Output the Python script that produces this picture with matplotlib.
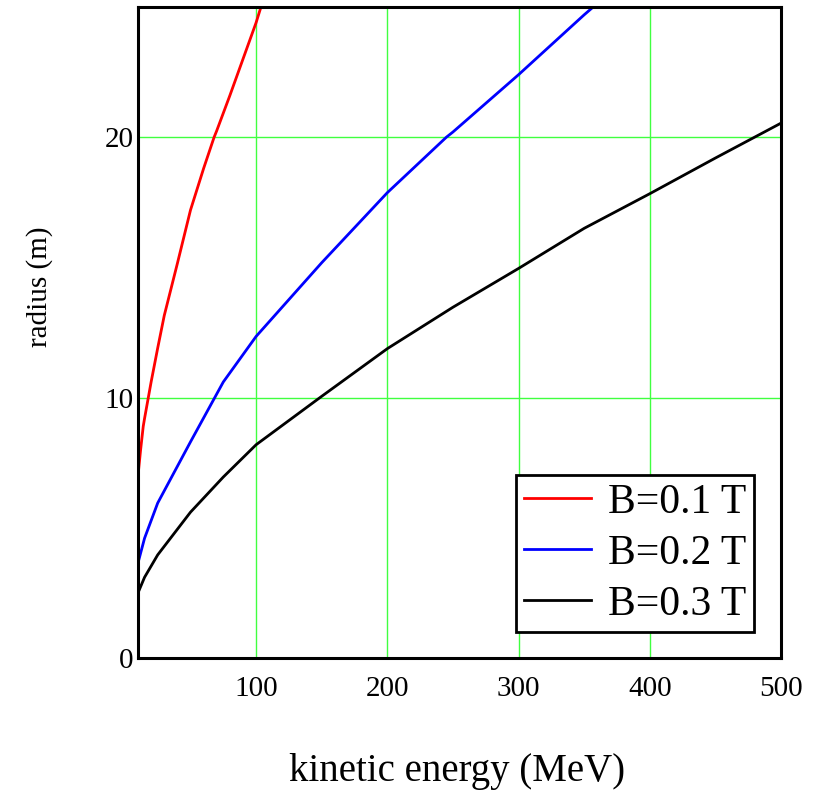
import matplotlib
matplotlib.use('Agg')
import matplotlib.pyplot as plt

plt.rcParams['font.family'] = ['Liberation Serif', 'DejaVu Serif']

# values (kinetic energy in MeV, radius in m)
ke_01 = [10, 12, 14, 15, 20, 25, 30, 40, 50, 60, 68, 70, 80, 90, 100, 104]
r_01 = [7.0, 8.0, 8.9, 9.2, 10.6, 11.9, 13.15, 15.15, 17.2, 18.8, 20.0, 20.25, 21.6, 23.0, 24.4, 25.05]

ke_02 = [10, 15, 25, 50, 75, 100, 150, 200, 245, 250, 300, 350, 358]
r_02 = [3.65, 4.6, 5.95, 8.3, 10.6, 12.35, 15.18, 17.87, 20.0, 20.2, 22.4, 24.7, 25.05]

ke_03 = [10, 15, 25, 50, 75, 100, 150, 200, 250, 300, 350, 400, 450, 500]
r_03 = [2.5, 3.1, 3.96, 5.6, 6.95, 8.19, 10.05, 11.88, 13.47, 14.96, 16.5, 17.83, 19.2, 20.54]

labels = ['B=0.1 T', 'B=0.2 T', 'B=0.3 T']
x_ticks = [100, 200, 300, 400, 500]
y_ticks = [0, 10, 20]

fig = plt.figure(figsize=(8.15, 7.93), dpi=100)
ax = fig.add_axes([138/815, 1-658/793, 643/815, 651/793])

ax.plot(ke_01, r_01, color='#ff0000', lw=2, label=labels[0])
ax.plot(ke_02, r_02, color='#0000ff', lw=2, label=labels[1])
ax.plot(ke_03, r_03, color='black', lw=2, label=labels[2])

ax.set_xlim(10, 500)
ax.set_ylim(0, 25)
ax.set_xticks(x_ticks)
ax.set_yticks(y_ticks)
ax.grid(True, color='#40ff40', lw=1)
ax.set_axisbelow(True)
ax.tick_params(length=0, labelsize=21)
ax.tick_params(axis='x', pad=13)
ax.tick_params(axis='y', pad=3)
for sp in ax.spines.values():
    sp.set_linewidth(2.2)
    sp.set_color('black')

leg = ax.legend(loc='upper left', bbox_to_anchor=(0.588, 0.281), borderaxespad=0,
                fontsize=30, fancybox=False, framealpha=1, edgecolor='black',
                handlelength=1.6, handletextpad=0.4, borderpad=0.2, labelspacing=0.3)
leg.get_frame().set_linewidth(2)

fig.text(457/815, 1-772/793, 'kinetic energy (MeV)', fontsize=28, ha='center', va='center')
fig.text(40/815, 1-287/793, 'radius (m)', fontsize=21, rotation=90, ha='center', va='center')

fig.savefig('out.png', dpi=100)
